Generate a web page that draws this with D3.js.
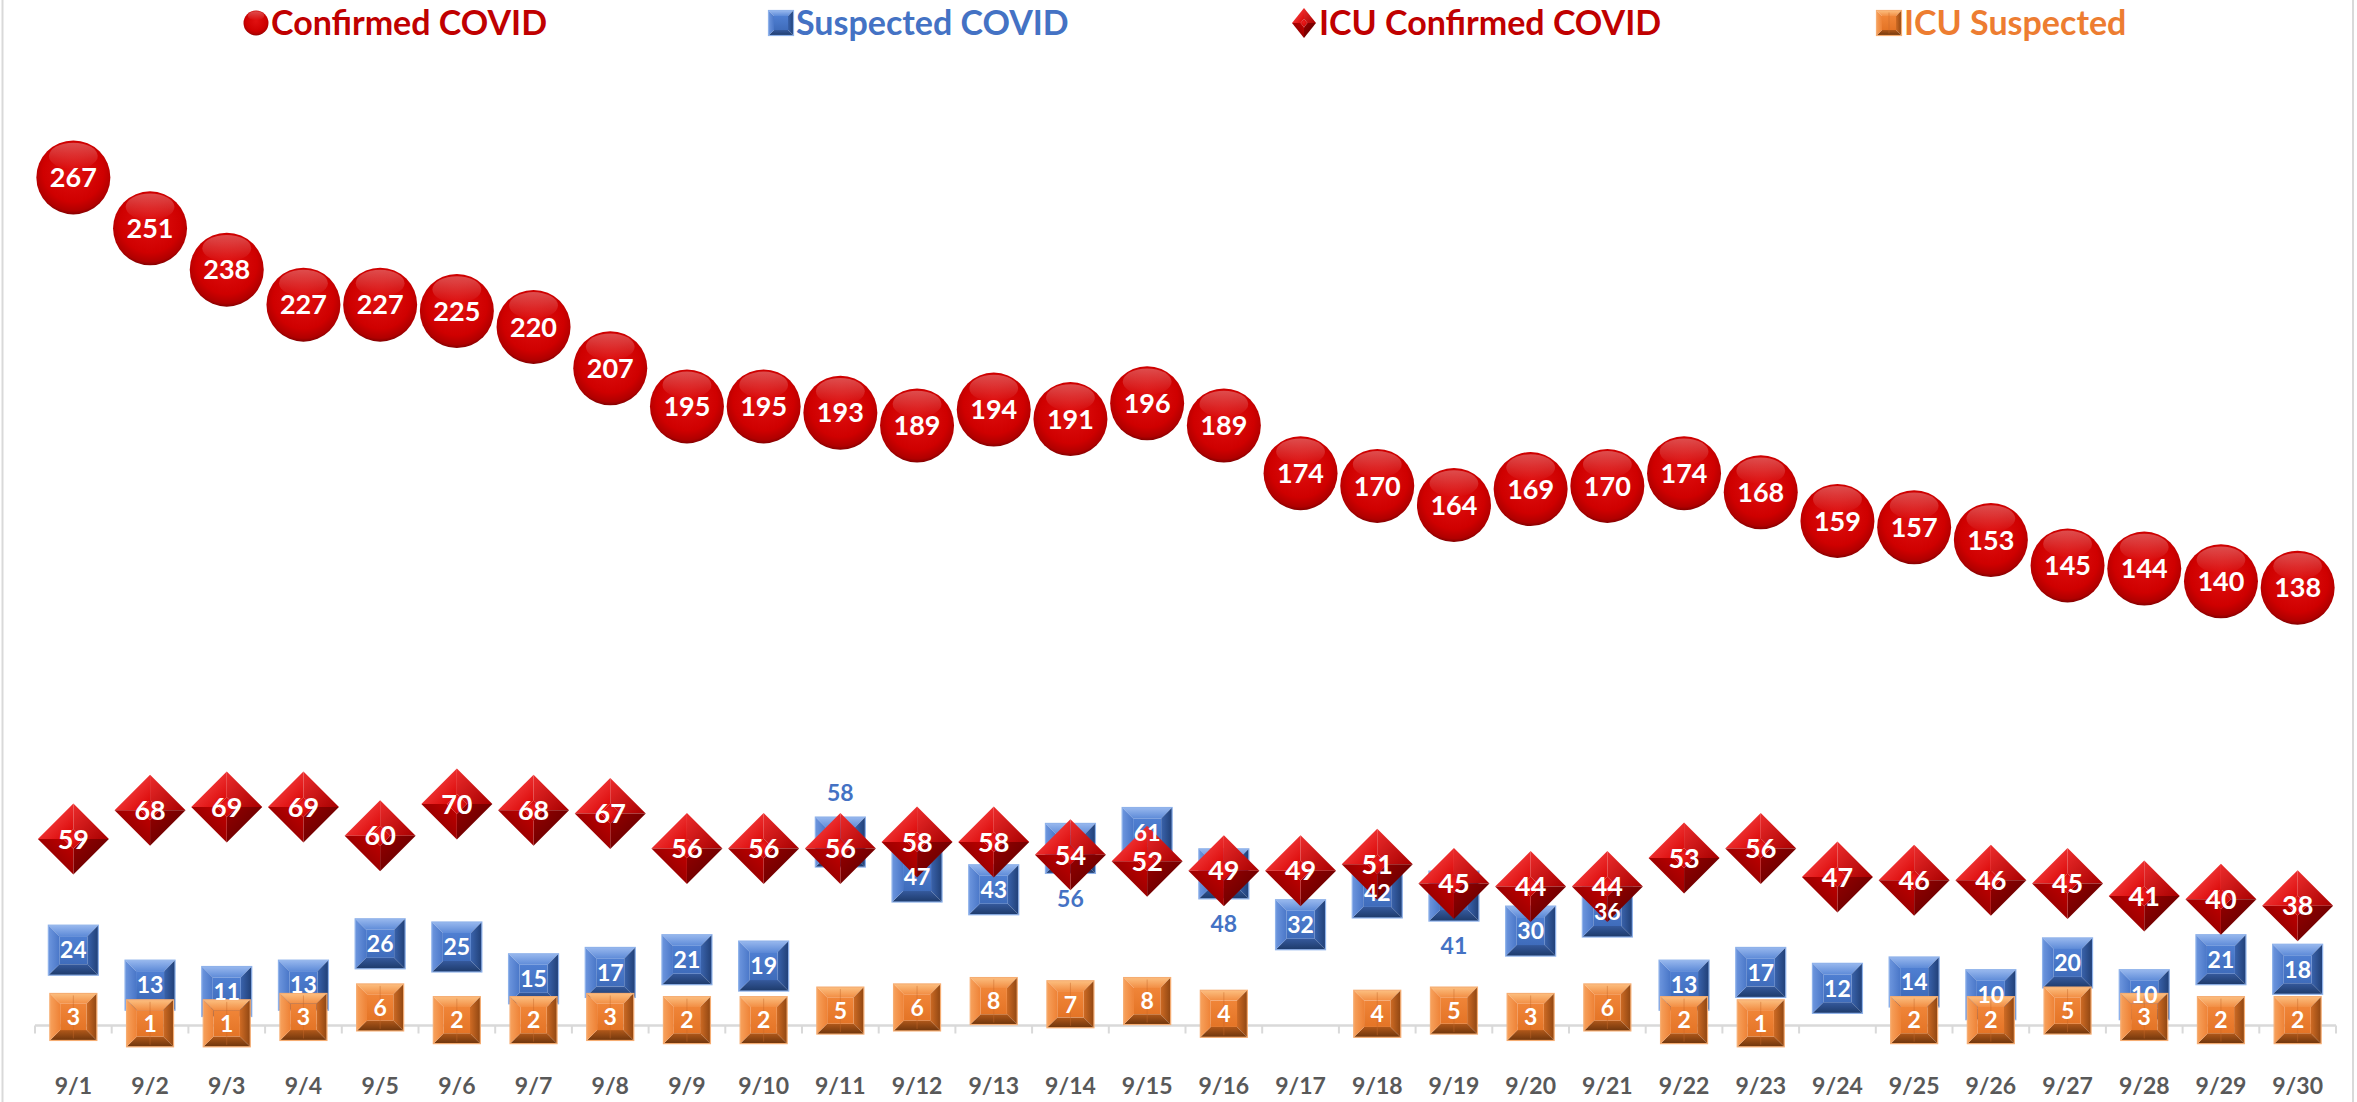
<!DOCTYPE html>
<html>
<head>
<meta charset="utf-8">
<script src="https://cdn.jsdelivr.net/npm/d3@7"></script>
<style>
  html,body{margin:0;padding:0;background:#fff;}
  svg{display:block;}
</style>
</head>
<body>
<div id="chart"></div>
<script>
// ---------------- DATA ----------------
const dates = ["9/1","9/2","9/3","9/4","9/5","9/6","9/7","9/8","9/9","9/10","9/11","9/12","9/13","9/14","9/15","9/16","9/17","9/18","9/19","9/20","9/21","9/22","9/23","9/24","9/25","9/26","9/27","9/28","9/29","9/30"];
const confirmed = [267,251,238,227,227,225,220,207,195,195,193,189,194,191,196,189,174,170,164,169,170,174,168,159,157,153,145,144,140,138];
const suspected = [24,13,11,13,26,25,15,17,21,19,58,47,43,56,61,48,32,42,41,30,36,13,17,12,14,10,20,10,21,18];
const icuConfirmed = [59,68,69,69,60,70,68,67,56,56,56,58,58,54,52,49,49,51,45,44,44,53,56,47,46,46,45,41,40,38];
const icuSuspected = [3,1,1,3,6,2,2,3,2,2,5,6,8,7,8,4,null,4,5,3,6,2,1,null,2,2,5,3,2,2];
const seriesNames = ["Confirmed COVID","Suspected COVID","ICU Confirmed COVID","ICU Suspected"];

// label placement for suspected values that sit outside their marker
const suspectedOutside = {"9/11":"above","9/14":"below","9/16":"below","9/19":"below"};

// ---------------- LAYOUT ----------------
const W = 2357, H = 1102;
const FONT = "Lato, 'Open Sans', sans-serif";
const svg = d3.select("#chart").append("svg").attr("width", W).attr("height", H);
const defs = svg.append("defs");

function linGrad(id, x1,y1,x2,y2, stops){
  const g = defs.append("linearGradient").attr("id",id)
    .attr("x1",x1).attr("y1",y1).attr("x2",x2).attr("y2",y2);
  stops.forEach(s=>g.append("stop").attr("offset",s[0]).attr("stop-color",s[1]).attr("stop-opacity", s[2]==null?1:s[2]));
}
function radGrad(id, cx, cy, r, stops){
  const g = defs.append("radialGradient").attr("id",id).attr("cx",cx).attr("cy",cy).attr("r",r);
  stops.forEach(s=>g.append("stop").attr("offset",s[0]).attr("stop-color",s[1]).attr("stop-opacity", s[2]==null?1:s[2]));
}

// circle gradients
radGrad("gCirc","50%","42%","62%",[[0,"#e01010"],[0.66,"#cf0000"],[0.86,"#b00000"],[1,"#5e0000"]]);
linGrad("gCircHi",0,0,0,1,[[0,"#ffffff",0.6],[1,"#ffffff",0]]);
// diamond facets
linGrad("gDiaTL",0,0,1,1,[[0,"#ff5a5a"],[1,"#d80000"]]);
linGrad("gDiaTR",0,0,1,1,[[0,"#ec2c2c"],[1,"#a80000"]]);
linGrad("gDiaBR",0,0,1,1,[[0,"#960000"],[1,"#560000"]]);
linGrad("gDiaBL",1,0,0,1,[[0,"#c40000"],[1,"#780000"]]);
radGrad("gDiaC","45%","40%","70%",[[0,"#ec1c1c"],[1,"#c40000"]]);
// box palettes
const pal = {
  blue:{top:["#98b8ee","#5e8bd8"], left:["#6d96de","#4a77c8"], right:["#3a63ac","#203f76"], bottom:["#35599c","#1d3a6a"], center:["#4f7fd2","#3f6cbb"], stroke:"#8fb2ea"},
  orange:{top:["#fcbf80","#f28e44"], left:["#f7a15c","#ee8236"], right:["#cf6b24","#8f4612"], bottom:["#b0581a","#6e350c"], center:["#f08538","#e47426"], stroke:"#f6ad72"}
};
Object.entries(pal).forEach(([k,p])=>{
  linGrad(`g${k}top`,0,0,0,1,[[0,p.top[0]],[1,p.top[1]]]);
  linGrad(`g${k}bottom`,0,0,0,1,[[0,p.bottom[0]],[1,p.bottom[1]]]);
  linGrad(`g${k}left`,0,0,1,0,[[0,p.left[0]],[1,p.left[1]]]);
  linGrad(`g${k}right`,0,0,1,0,[[0,p.right[0]],[1,p.right[1]]]);
  linGrad(`g${k}center`,0,0,0,1,[[0,p.center[0]],[1,p.center[1]]]);
});

// ---------------- MARKER DRAWERS ----------------
function drawCircle(g, r){
  g.append("circle").attr("r", r).attr("fill","url(#gCirc)");
  g.append("ellipse").attr("cx",0).attr("cy",-r*0.58).attr("rx",r*0.66).attr("ry",r*0.36)
    .attr("fill","url(#gCircHi)").attr("opacity",0.5);
}
function drawDiamond(g, hw, hh){
  const k = 0.28;
  const T=[0,-hh], R=[hw,0], B=[0,hh], L=[-hw,0];
  const t=[0,-hh*k], r=[hw*k,0], b=[0,hh*k], l=[-hw*k,0];
  const poly = pts => "M"+pts.map(p=>p.join(",")).join("L")+"Z";
  g.append("path").attr("d",poly([L,T,t,l])).attr("fill","url(#gDiaTL)");
  g.append("path").attr("d",poly([T,R,r,t])).attr("fill","url(#gDiaTR)");
  g.append("path").attr("d",poly([R,B,b,r])).attr("fill","url(#gDiaBR)");
  g.append("path").attr("d",poly([B,L,l,b])).attr("fill","url(#gDiaBL)");
  g.append("path").attr("d",poly([t,r,b,l])).attr("fill","url(#gDiaC)");
}
function drawBox(g, w, h, key){
  const x0=-w/2, x1=w/2, y0=-h/2, y1=h/2, bv=Math.min(w,h)*0.22;
  const poly = pts => "M"+pts.map(p=>p.join(",")).join("L")+"Z";
  const ix0=x0+bv, ix1=x1-bv, iy0=y0+bv, iy1=y1-bv;
  g.append("path").attr("d",poly([[x0,y0],[x1,y0],[ix1,iy0],[ix0,iy0]])).attr("fill",`url(#g${key}top)`);
  g.append("path").attr("d",poly([[x1,y0],[x1,y1],[ix1,iy1],[ix1,iy0]])).attr("fill",`url(#g${key}right)`);
  g.append("path").attr("d",poly([[x1,y1],[x0,y1],[ix0,iy1],[ix1,iy1]])).attr("fill",`url(#g${key}bottom)`);
  g.append("path").attr("d",poly([[x0,y1],[x0,y0],[ix0,iy0],[ix0,iy1]])).attr("fill",`url(#g${key}left)`);
  g.append("rect").attr("x",ix0).attr("y",iy0).attr("width",ix1-ix0).attr("height",iy1-iy0).attr("fill",`url(#g${key}center)`);
  if(key==="orange"){
    g.append("line").attr("x1",0).attr("x2",0).attr("y1",y0+2).attr("y2",y1-2)
      .attr("stroke","#c8692a").attr("stroke-width",1).attr("opacity",0.45);
  }
  g.append("rect").attr("x",x0).attr("y",y0).attr("width",w).attr("height",h)
    .attr("fill","none").attr("stroke",pal[key].stroke).attr("stroke-width",1.2);
}

// ---------------- SCALES ----------------
const x = d3.scaleBand().domain(dates).range([35, 2336]).padding(0);
const y = d3.scaleLinear().domain([0, 300]).range([1026.5, 72.5]);
const cx = d => x(d) + x.bandwidth()/2;

// frame lines
svg.append("line").attr("x1",2.5).attr("x2",2.5).attr("y1",0).attr("y2",H).attr("stroke","#d9d9d9").attr("stroke-width",2);
svg.append("line").attr("x1",2353).attr("x2",2353).attr("y1",0).attr("y2",H).attr("stroke","#d9d9d9").attr("stroke-width",2);

// ---------------- AXIS ----------------
const axisY = y(0) - 1;
const axisG = svg.append("g").attr("transform",`translate(0,${axisY})`);
axisG.call(d3.axisBottom(x).tickSize(0).tickPadding(52));
axisG.select(".domain").remove();
axisG.selectAll("text").attr("font-family",FONT).attr("font-weight","bold")
  .attr("font-size",23).attr("fill","#595959");
axisG.append("line").attr("x1",x.range()[0]).attr("x2",x.range()[1]).attr("y1",0).attr("y2",0)
  .attr("stroke","#d9d9d9").attr("stroke-width",2.5);
axisG.selectAll("line.bt").data(d3.range(dates.length+1)).enter().append("line").attr("class","bt")
  .attr("x1",i=>x.range()[0]+i*x.step()).attr("x2",i=>x.range()[0]+i*x.step())
  .attr("y1",0).attr("y2",8).attr("stroke","#d9d9d9").attr("stroke-width",2);

// ---------------- MARKERS ----------------
const rows = dates.map((d,i)=>({d, c:confirmed[i], s:suspected[i], ic:icuConfirmed[i], is:icuSuspected[i]}));
const marks = svg.append("g");

marks.selectAll("g.conf").data(rows).enter().append("g").attr("class","conf")
  .attr("transform",r=>`translate(${cx(r.d)},${y(r.c)})`).each(function(){ drawCircle(d3.select(this), 37); });
marks.selectAll("g.susp").data(rows.filter(r=>r.s!=null)).enter().append("g").attr("class","susp")
  .attr("transform",r=>`translate(${cx(r.d)},${y(r.s)})`).each(function(){ drawBox(d3.select(this), 50, 50, "blue"); });
marks.selectAll("g.icuc").data(rows).enter().append("g").attr("class","icuc")
  .attr("transform",r=>`translate(${cx(r.d)},${y(r.ic)})`).each(function(){ drawDiamond(d3.select(this), 35.5, 35.5); });
marks.selectAll("g.icus").data(rows.filter(r=>r.is!=null)).enter().append("g").attr("class","icus")
  .attr("transform",r=>`translate(${cx(r.d)},${y(r.is)})`).each(function(){ drawBox(d3.select(this), 47, 47, "orange"); });

// ---------------- LABELS ----------------
const lab = svg.append("g").attr("font-family",FONT).attr("font-weight","bold").attr("text-anchor","middle");
lab.selectAll("text.lc").data(rows).enter().append("text").attr("class","lc")
  .attr("x",r=>cx(r.d)).attr("y",r=>y(r.c)).attr("dy","0.36em").attr("font-size",27).attr("fill","#fff").text(r=>r.c);
lab.selectAll("text.ls").data(rows.filter(r=>r.s!=null)).enter().append("text").attr("class","ls")
  .attr("x",r=>cx(r.d))
  .attr("y",r=>y(r.s) + (suspectedOutside[r.d]==="above" ? -49 : suspectedOutside[r.d]==="below" ? 50 : 0))
  .attr("dy","0.36em").attr("font-size",23)
  .attr("fill",r=>suspectedOutside[r.d] ? "#4472c4" : "#fff").text(r=>r.s);
lab.selectAll("text.lic").data(rows).enter().append("text").attr("class","lic")
  .attr("x",r=>cx(r.d)).attr("y",r=>y(r.ic)).attr("dy","0.36em").attr("font-size",27).attr("fill","#fff").text(r=>r.ic);
lab.selectAll("text.lis").data(rows.filter(r=>r.is!=null)).enter().append("text").attr("class","lis")
  .attr("x",r=>cx(r.d)).attr("y",r=>y(r.is)).attr("dy","0.36em").attr("font-size",23).attr("fill","#fff").text(r=>r.is);

// ---------------- LEGEND ----------------
const legendX = [256, 781, 1304, 1889];
const legendColors = ["#c00000","#4472c4","#c00000","#ed7d31"];
const leg = svg.append("g");
seriesNames.forEach((name,i)=>{
  const g = leg.append("g").attr("transform",`translate(${legendX[i]},23)`);
  const m = g.append("g");
  if(i===0) drawCircle(m, 12.5);
  if(i===1) drawBox(m, 25, 25, "blue");
  if(i===2) drawDiamond(m, 12, 15);
  if(i===3) drawBox(m, 25, 25, "orange");
  g.append("text").attr("x",15).attr("y",12).attr("font-family",FONT).attr("font-weight","bold")
    .attr("font-size",34).attr("fill",legendColors[i]).text(name);
});
</script>
</body>
</html>
